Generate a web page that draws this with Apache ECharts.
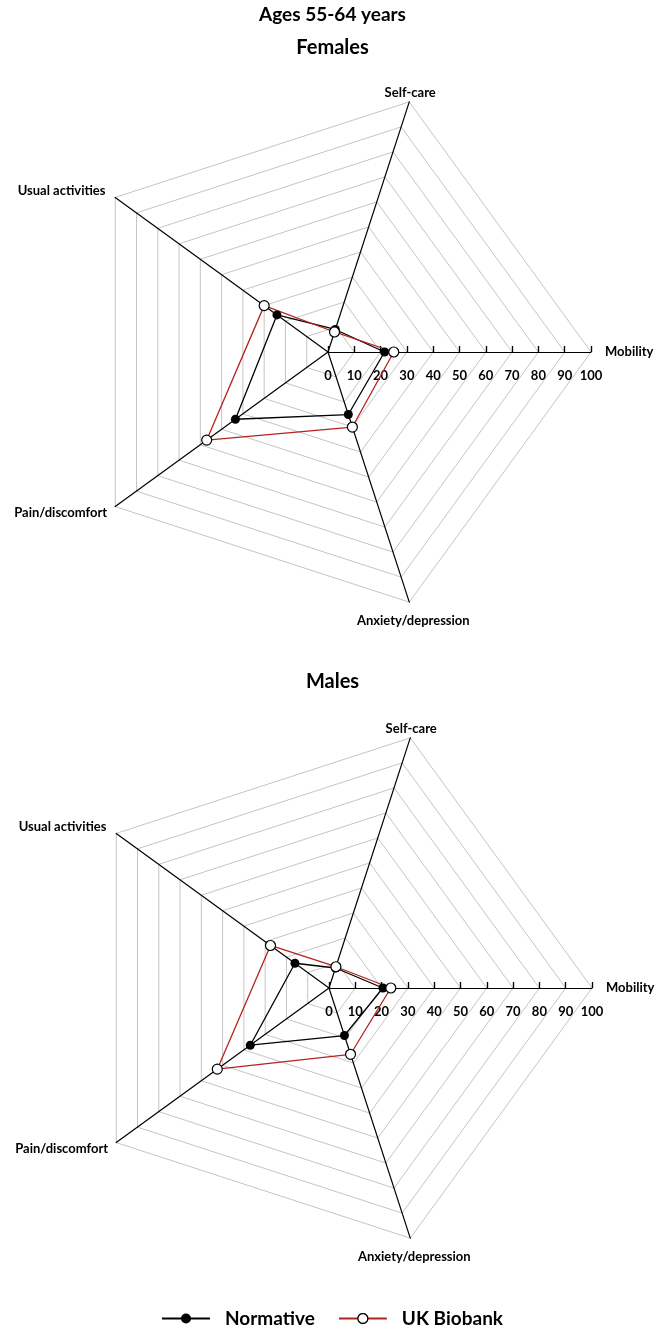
<!DOCTYPE html>
<html>
<head>
<meta charset="utf-8">
<script src="https://cdn.jsdelivr.net/npm/echarts@6/dist/echarts.min.js"></script>
<style>
  html, body { margin: 0; padding: 0; background: #fff; }
  #main { width: 665px; height: 1335px; }
</style>
</head>
<body>
<div id="main"></div>
<script>
const dims = ['Mobility', 'Self-care', 'Usual activities', 'Pain/discomfort', 'Anxiety/depression'];
const femaleNormative = [21.5, 9, 24, 43.5, 25];
const femaleBiobank = [25, 8, 30, 57, 30];
const maleNormative = [20.5, 8, 16, 37, 19];
const maleBiobank = [23.5, 8.5, 27.5, 52.5, 26.5];

const FONT = 'Lato';
const RED = '#b5231f';
const R = 263;

// legend icons: line with marker, right padding for the gap before the text
const normIcon = 'image://data:image/svg+xml;utf8,' + encodeURIComponent(
  '<svg xmlns="http://www.w3.org/2000/svg" width="58" height="12"><line x1="0" y1="6" x2="48" y2="6" stroke="#000" stroke-width="2"/><circle cx="24" cy="6" r="5" fill="#000"/></svg>');
const ukbIcon = 'image://data:image/svg+xml;utf8,' + encodeURIComponent(
  '<svg xmlns="http://www.w3.org/2000/svg" width="58" height="12"><line x1="0" y1="6" x2="48" y2="6" stroke="' + RED + '" stroke-width="2"/><circle cx="24" cy="6" r="5" fill="#fff" stroke="#000" stroke-width="1.3"/></svg>');

// per-axis name placement
const nameOpts = [
  { nameGap: 14, nameTextStyle: { align: 'left', verticalAlign: 'middle' } },
  { nameGap: 3, nameTextStyle: { align: 'center', verticalAlign: 'bottom' } },
  { nameGap: 12, nameTextStyle: { align: 'right', verticalAlign: 'middle' } },
  { nameGap: 10, nameTextStyle: { align: 'right', verticalAlign: 'middle' } },
  { nameGap: 13, nameTextStyle: { align: 'center', verticalAlign: 'top' } }
];

function makeRadar(center) {
  return {
    center: center,
    radius: R,
    startAngle: 0,
    splitNumber: 10,
    shape: 'polygon',
    axisName: { color: '#000', fontFamily: FONT, fontWeight: 'bold', fontSize: 13 },
    nameGap: 8,
    splitLine: { lineStyle: { color: '#c4c4c4', width: 1 } },
    splitArea: { show: false },
    axisLine: { lineStyle: { color: '#000', width: 1.2 } },
    axisTick: { show: false },
    axisLabel: { show: false },
    indicator: dims.map((d, i) => {
      const ind = Object.assign({ name: d, min: 0, max: 100 }, nameOpts[i]);
      if (i === 0) {
        ind.axisTick = { show: true, length: 6, lineStyle: { color: '#000', width: 1.2 } };
        ind.axisLabel = { show: true, color: '#000', fontFamily: FONT, fontWeight: 'bold', fontSize: 13, margin: -30 };
      }
      return ind;
    })
  };
}

// overlay carrying only the ticks on the other side of the Mobility axis
function tickRadar(center) {
  return {
    center: center,
    radius: R,
    startAngle: 0,
    splitNumber: 10,
    shape: 'polygon',
    axisName: { show: false },
    splitLine: { show: false },
    splitArea: { show: false },
    axisLine: { show: false },
    axisTick: { show: false },
    axisLabel: { show: false },
    indicator: dims.map((d, i) => {
      const ind = { name: d, min: 0, max: 100 };
      if (i === 0) ind.axisTick = { show: true, inside: true, length: 6, lineStyle: { color: '#000', width: 1.2 } };
      return ind;
    })
  };
}

function series(radarIndex, norm, ukb) {
  return [{
    name: 'Normative', type: 'radar', radarIndex: radarIndex,
    symbol: 'circle', symbolSize: 9,
    lineStyle: { color: '#000', width: 1.3 },
    itemStyle: { color: '#000' },
    data: [{ value: norm }]
  }, {
    name: 'UK Biobank', type: 'radar', radarIndex: radarIndex,
    symbol: 'circle', symbolSize: 10,
    lineStyle: { color: RED, width: 1.3 },
    itemStyle: { color: '#fff', borderColor: '#000', borderWidth: 1.2 },
    data: [{ value: ukb }]
  }];
}

const chart = echarts.init(document.getElementById('main'));
chart.setOption({
  animation: false,
  title: [
    { text: 'Ages 55-64 years', left: 'center', top: 0,
      textStyle: { fontFamily: FONT, fontWeight: 'bold', fontSize: 19, color: '#000' } },
    { text: 'Females', left: 'center', top: 33,
      textStyle: { fontFamily: FONT, fontWeight: 'bold', fontSize: 20, color: '#000' } },
    { text: 'Males', left: 'center', top: 667,
      textStyle: { fontFamily: FONT, fontWeight: 'bold', fontSize: 20, color: '#000' } }
  ],
  legend: {
    bottom: 2, left: 'center', itemGap: 24, itemWidth: 58, itemHeight: 12,
    textStyle: { fontFamily: FONT, fontWeight: 'bold', fontSize: 19, color: '#000' },
    data: [
      { name: 'Normative', icon: normIcon },
      { name: 'UK Biobank', icon: ukbIcon }
    ]
  },
  radar: [makeRadar([328, 352]), makeRadar([329, 988]), tickRadar([328, 352]), tickRadar([329, 988])],
  series: [...series(0, femaleNormative, femaleBiobank), ...series(1, maleNormative, maleBiobank)]
});
</script>
</body>
</html>
